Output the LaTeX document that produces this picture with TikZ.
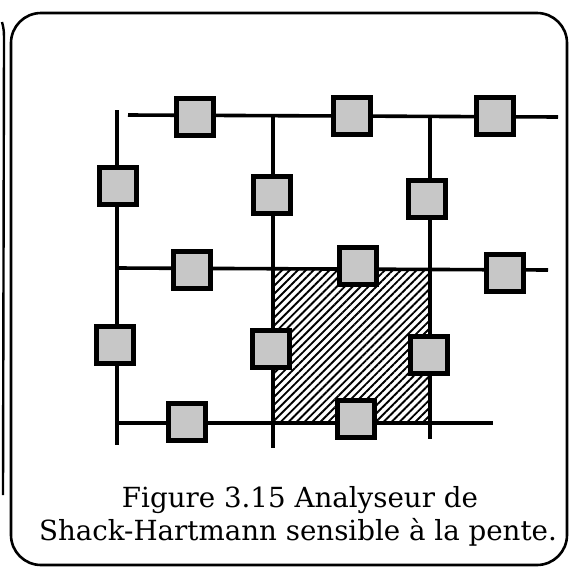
\documentclass[tikz,border=0pt]{standalone}
\usepackage{fontspec}
\setmainfont{DejaVu Serif}
\usetikzlibrary{patterns.meta}
\begin{document}
\begin{tikzpicture}[x=1pt,y=-1pt,
  gridline/.style={line width=3.6pt},
  lens/.style={draw=black,line width=4.2pt,fill=black!22,minimum size=37pt,inner sep=0pt,outer sep=0pt},
  frame/.style={line width=2.6pt},
  captiontext/.style={font=\fontsize{27.7}{33}\selectfont,align=center,inner sep=0pt}]
\useasboundingbox (0,0) rectangle (573,568);
% frame
\draw[frame,rounded corners=30pt] (11,13) rectangle (567,565);
\draw[line width=2.4pt] (2,22) .. controls (4,30) .. (4,45) -- (3,495);
% grid coordinates
\coordinate (t0) at (128,115); \coordinate (t1) at (558,117);
\coordinate (v1a) at (117,110); \coordinate (v1b) at (117,445);
\coordinate (v2a) at (273,115); \coordinate (v2b) at (273,448);
\coordinate (v3a) at (430,117); \coordinate (v3b) at (430,439);
\coordinate (m0) at (117,268); \coordinate (m1) at (548,270);
\coordinate (b0) at (117,423); \coordinate (b1) at (493,423);
% hatched cell
\fill[pattern={Lines[angle=45,distance=5.6pt,line width=1.9pt]}] (273,268) rectangle (430,423);
\draw[gridline] (t0) -- (t1);
\draw[gridline] (v1a) -- (v1b);
\draw[gridline] (v2a) -- (v2b);
\draw[gridline] (v3a) -- (v3b);
\draw[gridline] (m0) -- (m1);
\draw[gridline] (b0) -- (b1);
% lenslets
\node[lens] (s1) at (195,117) {};
\node[lens] (s2) at (352,116) {};
\node[lens] (s3) at (495,116) {};
\node[lens] (s4) at (118,186) {};
\node[lens] (s5) at (272,195) {};
\node[lens] (s6) at (427,199) {};
\node[lens] (s7) at (192,270) {};
\node[lens] (s8) at (358,266) {};
\node[lens] (s9) at (505,273) {};
\node[lens] (s10) at (115,345) {};
\node[lens] (s11) at (271,349) {};
\node[lens] (s12) at (429,355) {};
\node[lens] (s13) at (187,422) {};
\node[lens] (s14) at (356,419) {};
% caption
\node[captiontext,anchor=base] (c1) at (300,507) {Figure 3.15 Analyseur de};
\node[captiontext,anchor=base] (c2) at (298,540) {Shack-Hartmann sensible à la pente.};
\end{tikzpicture}
\end{document}
